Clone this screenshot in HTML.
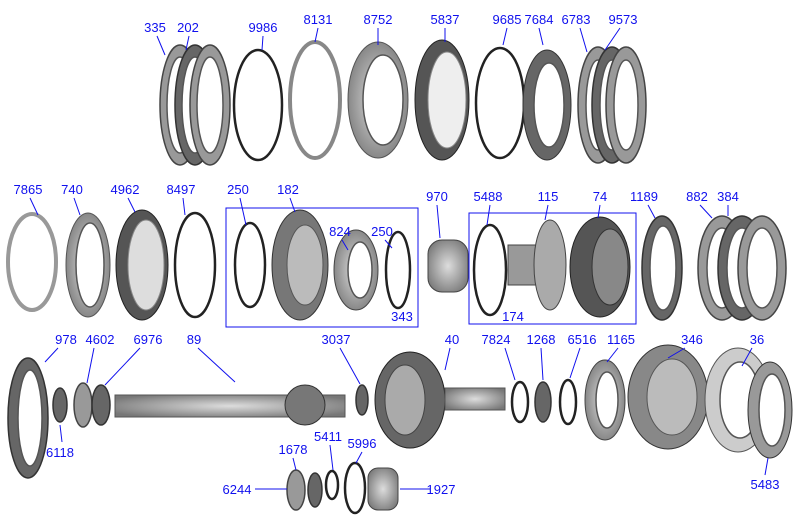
<!DOCTYPE html>
<html><head><meta charset="utf-8"><style>
body{margin:0;background:#fff}
svg{display:block}
text{font-family:"Liberation Sans",sans-serif;font-size:13px;fill:#1010ee;text-anchor:middle}
.l{stroke:#1010ee;stroke-width:1;fill:none}
.r{fill:none;stroke:#222;stroke-width:2.5}
.g{fill:#999;stroke:#444;stroke-width:1.5}
.d{fill:#666;stroke:#333;stroke-width:1.5}
.w{fill:#fff;stroke:#555;stroke-width:1.5}
</style></head><body>
<svg width="800" height="525" viewBox="0 0 800 525">
<defs>
<radialGradient id="m" cx="50%" cy="50%" r="60%"><stop offset="0" stop-color="#ddd"/><stop offset="1" stop-color="#777"/></radialGradient>
</defs>
<!-- Row 1 -->
<g>
<ellipse cx="180" cy="105" rx="20" ry="60" class="g"/><ellipse cx="180" cy="105" rx="13" ry="48" class="w"/>
<ellipse cx="195" cy="105" rx="20" ry="60" class="d"/><ellipse cx="195" cy="105" rx="13" ry="48" class="w"/>
<ellipse cx="210" cy="105" rx="20" ry="60" class="g"/><ellipse cx="210" cy="105" rx="13" ry="48" class="w"/>
<ellipse cx="258" cy="105" rx="24" ry="55" class="r"/>
<ellipse cx="315" cy="100" rx="25" ry="58" fill="none" stroke="#888" stroke-width="4"/>
<ellipse cx="378" cy="100" rx="30" ry="58" fill="url(#m)" stroke="#555"/><ellipse cx="383" cy="100" rx="20" ry="45" class="w"/>
<ellipse cx="442" cy="100" rx="27" ry="60" fill="#555" stroke="#222"/><ellipse cx="447" cy="100" rx="19" ry="48" fill="#eee" stroke="#888"/>
<ellipse cx="500" cy="103" rx="24" ry="55" class="r"/>
<ellipse cx="547" cy="105" rx="24" ry="55" fill="#666" stroke="#333"/><ellipse cx="549" cy="105" rx="15" ry="42" class="w"/>
<ellipse cx="598" cy="105" rx="20" ry="58" class="g"/><ellipse cx="598" cy="105" rx="12" ry="45" class="w"/>
<ellipse cx="612" cy="105" rx="20" ry="58" class="d"/><ellipse cx="612" cy="105" rx="12" ry="45" class="w"/>
<ellipse cx="626" cy="105" rx="20" ry="58" class="g"/><ellipse cx="626" cy="105" rx="12" ry="45" class="w"/>
</g>
<g>
<text x="155" y="32">335</text><text x="188" y="32">202</text><text x="263" y="32">9986</text>
<text x="318" y="24">8131</text><text x="378" y="24">8752</text><text x="445" y="24">5837</text>
<text x="507" y="24">9685</text><text x="539" y="24">7684</text><text x="576" y="24">6783</text><text x="623" y="24">9573</text>
<path class="l" d="M157 36L165 55M189 36L186 50M263 36L262 50M318 28L315 42M378 28L378 45M445 28L445 42M507 28L503 45M539 28L543 45M580 28L587 52M620 28L605 50"/>
</g>
<!-- Row 2 -->
<g>
<ellipse cx="32" cy="262" rx="24" ry="48" fill="none" stroke="#999" stroke-width="4"/>
<ellipse cx="88" cy="265" rx="22" ry="52" fill="url(#m)" stroke="#555"/><ellipse cx="90" cy="265" rx="14" ry="42" class="w"/>
<ellipse cx="142" cy="265" rx="26" ry="55" fill="#555" stroke="#222"/><ellipse cx="146" cy="265" rx="18" ry="45" fill="#ddd" stroke="#888"/>
<ellipse cx="195" cy="265" rx="20" ry="52" class="r"/>
<rect x="226" y="208" width="192" height="119" fill="none" stroke="#1010ee"/>
<ellipse cx="250" cy="265" rx="15" ry="42" class="r"/>
<ellipse cx="300" cy="265" rx="28" ry="55" fill="#777" stroke="#333"/><ellipse cx="305" cy="265" rx="18" ry="40" fill="#bbb" stroke="#555"/>
<ellipse cx="356" cy="270" rx="22" ry="40" fill="url(#m)" stroke="#444"/><ellipse cx="360" cy="270" rx="12" ry="28" class="w"/>
<ellipse cx="398" cy="270" rx="12" ry="38" class="r"/>
<rect x="428" y="240" width="40" height="52" rx="14" fill="url(#m)" stroke="#444"/>
<rect x="469" y="213" width="167" height="111" fill="none" stroke="#1010ee"/>
<ellipse cx="490" cy="270" rx="16" ry="45" class="r"/>
<rect x="508" y="245" width="30" height="40" fill="#999" stroke="#444"/>
<ellipse cx="550" cy="265" rx="16" ry="45" fill="#aaa" stroke="#444"/>
<ellipse cx="600" cy="267" rx="30" ry="50" fill="#555" stroke="#222"/><ellipse cx="610" cy="267" rx="18" ry="38" fill="#888" stroke="#333"/>
<ellipse cx="662" cy="268" rx="20" ry="52" class="d"/><ellipse cx="663" cy="268" rx="13" ry="42" class="w"/>
<ellipse cx="722" cy="268" rx="24" ry="52" class="g"/><ellipse cx="722" cy="268" rx="15" ry="40" class="w"/>
<ellipse cx="742" cy="268" rx="24" ry="52" class="d"/><ellipse cx="742" cy="268" rx="15" ry="40" class="w"/>
<ellipse cx="762" cy="268" rx="24" ry="52" class="g"/><ellipse cx="762" cy="268" rx="15" ry="40" class="w"/>
</g>
<g>
<text x="28" y="194">7865</text><text x="72" y="194">740</text><text x="125" y="194">4962</text><text x="181" y="194">8497</text>
<text x="238" y="194">250</text><text x="288" y="194">182</text><text x="340" y="236">824</text><text x="382" y="236">250</text>
<text x="437" y="201">970</text><text x="488" y="201">5488</text><text x="548" y="201">115</text><text x="600" y="201">74</text>
<text x="644" y="201">1189</text><text x="697" y="201">882</text><text x="728" y="201">384</text>
<text x="402" y="321">343</text><text x="513" y="321">174</text>
<path class="l" d="M30 198L38 215M74 198L80 215M128 198L135 212M183 198L185 215M240 198L246 225M290 198L295 212M342 240L348 250M385 240L392 248M437 205L440 238M490 205L487 225M548 205L545 220M600 205L598 218M648 205L655 218M700 205L712 218M728 205L728 216"/>
</g>
<!-- Row 3 -->
<g>
<ellipse cx="28" cy="418" rx="20" ry="60" class="d"/><ellipse cx="30" cy="418" rx="12" ry="48" class="w"/>
<ellipse cx="60" cy="405" rx="7" ry="17" class="d"/>
<ellipse cx="83" cy="405" rx="9" ry="22" class="g"/>
<ellipse cx="101" cy="405" rx="9" ry="20" class="d"/>
<rect x="115" y="395" width="230" height="22" fill="url(#m)" stroke="#555"/>
<ellipse cx="305" cy="405" rx="20" ry="20" fill="#777" stroke="#333"/>
<ellipse cx="362" cy="400" rx="6" ry="15" class="d"/>
<ellipse cx="410" cy="400" rx="35" ry="48" fill="#666" stroke="#222"/><ellipse cx="405" cy="400" rx="20" ry="35" fill="#aaa" stroke="#444"/>
<rect x="445" y="388" width="60" height="22" fill="url(#m)" stroke="#555"/>
<ellipse cx="520" cy="402" rx="8" ry="20" class="r"/>
<ellipse cx="543" cy="402" rx="8" ry="20" class="d"/>
<ellipse cx="568" cy="402" rx="8" ry="22" class="r"/>
<ellipse cx="605" cy="400" rx="20" ry="40" fill="url(#m)" stroke="#444"/><ellipse cx="607" cy="400" rx="11" ry="28" class="w"/>
<ellipse cx="668" cy="397" rx="40" ry="52" fill="#888" stroke="#333"/><ellipse cx="672" cy="397" rx="25" ry="38" fill="#bbb" stroke="#555"/>
<ellipse cx="738" cy="400" rx="33" ry="52" fill="#ccc" stroke="#555"/><ellipse cx="740" cy="400" rx="20" ry="38" class="w"/>
<ellipse cx="770" cy="410" rx="22" ry="48" fill="#999" stroke="#333"/><ellipse cx="772" cy="410" rx="13" ry="36" class="w"/>
<ellipse cx="296" cy="490" rx="9" ry="20" class="g"/>
<ellipse cx="315" cy="490" rx="7" ry="17" class="d"/>
<ellipse cx="332" cy="485" rx="6" ry="14" class="r"/>
<ellipse cx="355" cy="488" rx="10" ry="25" class="r"/>
<rect x="368" y="468" width="30" height="42" rx="10" fill="url(#m)" stroke="#444"/>
</g>
<g>
<text x="66" y="344">978</text><text x="100" y="344">4602</text><text x="148" y="344">6976</text><text x="194" y="344">89</text>
<text x="336" y="344">3037</text><text x="452" y="344">40</text><text x="496" y="344">7824</text><text x="541" y="344">1268</text>
<text x="582" y="344">6516</text><text x="621" y="344">1165</text><text x="692" y="344">346</text><text x="757" y="344">36</text>
<text x="60" y="457">6118</text><text x="293" y="454">1678</text><text x="328" y="441">5411</text><text x="362" y="448">5996</text>
<text x="237" y="494">6244</text><text x="441" y="494">1927</text><text x="765" y="489">5483</text>
<path class="l" d="M58 348L45 362M94 348L87 383M140 348L105 385M198 348L235 382M340 348L360 384M450 348L445 370M505 348L515 380M541 348L543 380M580 348L570 378M618 348L607 362M685 348L668 358M752 348L742 366M62 442L60 425M293 458L296 470M330 445L333 470M362 452L356 463M255 489L287 489M430 489L400 489M765 475L768 458"/>
</g>
</svg>
</body></html>
